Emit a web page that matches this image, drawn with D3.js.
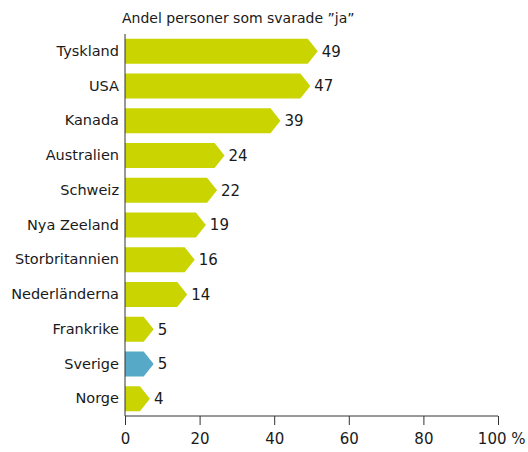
<!DOCTYPE html>
<html>
<head>
<meta charset="utf-8">
<script src="https://cdn.jsdelivr.net/npm/d3@7"></script>
<style>
  body { margin: 0; background: #fff; }
  text { font-family: "DejaVu Sans", sans-serif; fill: #1a1a1a; }
</style>
</head>
<body>
<svg class="chart"></svg>
<script>
var countries = ["Tyskland", "USA", "Kanada", "Australien", "Schweiz", "Nya Zeeland",
	"Storbritannien", "Nederländerna", "Frankrike", "Sverige", "Norge"];
var values = [49, 47, 39, 24, 22, 19, 16, 14, 5, 5, 4];
var highlight = ["Sverige"];
var ticks = [0, 20, 40, 60, 80, 100];

var width = 528;
var height = 452;
var font = "\"DejaVu Sans\", sans-serif";

var svg = d3.select(".chart")
	.attr("width", width)
	.attr("height", height);

var x = d3.scaleLinear().domain([0, 100]).range([125, 498]);
var y = d3.scaleBand().domain(countries).range([34, 416]).paddingInner(0.28).paddingOuter(0.14);

// title
svg.append("text")
	.attr("x", 122)
	.attr("y", 23)
	.style("font-size", "14px")
	.text("Andel personer som svarade \u201dja\u201d");

// bars with arrow tip
svg.append("g")
	.selectAll("path")
	.data(countries)
	.enter()
	.append("path")
		.attr("fill", function(d) { return highlight.indexOf(d) >= 0 ? "#56aac8" : "#c9d400"; })
		.attr("d", function(d, i) {
			var x0 = x(0), x1 = x(values[i]), y0 = y(d), h = y.bandwidth();
			return "M" + x0 + "," + y0 + "H" + x1 + "L" + (x1 + 10) + "," + (y0 + h / 2) +
				"L" + x1 + "," + (y0 + h) + "H" + x0 + "Z";
		});

// value labels
svg.append("g")
	.selectAll("text")
	.data(countries)
	.enter()
	.append("text")
		.attr("x", function(d, i) { return x(values[i]) + 14; })
		.attr("y", function(d) { return y(d) + y.bandwidth() / 2; })
		.attr("dy", "0.36em")
		.style("font-size", "15px")
		.text(function(d, i) { return values[i]; });

// category axis
var yAxis = svg.append("g")
	.attr("transform", "translate(" + x(0) + ",0)")
	.call(d3.axisLeft(y).tickSize(0).tickPadding(6));
yAxis.select(".domain").attr("stroke", "#333").attr("d", "M0,34V416");
yAxis.selectAll("text").style("font-size", "14.5px").style("font-family", font).attr("fill", "#1a1a1a");

// value axis
var xAxis = svg.append("g")
	.attr("transform", "translate(0,416)")
	.call(d3.axisBottom(x).tickValues(ticks).tickSize(9).tickPadding(8)
		.tickFormat(function(d) { return d === 100 ? "100 %" : d; }));
xAxis.select(".domain").attr("stroke", "#333").attr("d", "M" + x(0) + ",0H" + x(100));
xAxis.selectAll("line").attr("stroke", "#333");
xAxis.selectAll("text").style("font-size", "15px").style("font-family", font).attr("fill", "#1a1a1a");
xAxis.selectAll(".tick").filter(function(d) { return d === 100; }).select("text")
	.attr("text-anchor", "end").attr("x", 27);
</script>
</body>
</html>
